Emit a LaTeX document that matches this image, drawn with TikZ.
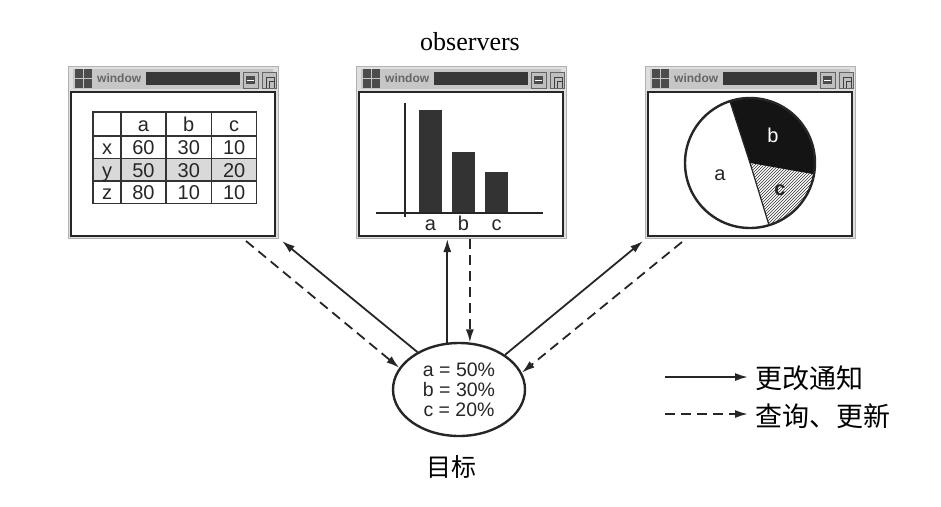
\documentclass[tikz,border=0pt]{standalone}
\usepackage{fontspec}
\setmainfont{Liberation Serif}
\newfontfamily\sansf{Liberation Sans}
\newfontfamily\cjkf{Noto Sans CJK SC}
\usetikzlibrary{shapes.geometric,arrows.meta,patterns,calc}

\tikzset{
  winframe/.style={draw=gray!60, fill=gray!25, line width=1pt, inner sep=0pt,
    minimum width=210pt, minimum height=172pt, anchor=north west},
  pane/.style={draw=black!85, fill=white, line width=1.3pt},
  conn/.style={line width=1.8pt, draw=black!85, -{Latex[length=13pt,width=8pt]}},
  dashconn/.style={conn, dash pattern=on 10pt off 6pt},
  cell/.style={font=\sansf\fontsize{20}{20}\selectfont, text=black!85, inner sep=0pt,
    text height=14.5pt, text depth=0pt},
  wintitle/.style={font=\sansf\bfseries\fontsize{12}{12}\selectfont, text=black!60, inner sep=0pt, anchor=west},
  axisline/.style={line width=1.4pt, draw=black!85},
  bar/.style={fill=black!80},
}

\newcommand\drawwin[2]{%
  \begin{scope}[shift={(#1,0)}]
    \node[winframe] (#2) at (0,-66) {};
    \fill[gray!45] (5,-69) rectangle (205,-89);
    \fill[black!70] (7,-69) rectangle (24,-88);
    \draw[gray!45, line width=0.8pt] (15.5,-69) -- (15.5,-88) (7,-78.5) -- (24,-78.5);
    \node[wintitle] (#2t) at (29,-78) {window};
    \fill[black!78] (78,-72) rectangle (172,-85);
    \draw[black!60, fill=gray!50] (175,-72) rectangle (190,-88);
    \fill[black!70] (178,-76) rectangle (187,-84);
    \draw[white, line width=0.8pt] (179,-80) -- (186,-80);
    \draw[black!60, fill=gray!50] (194,-72) rectangle (208,-88);
    \draw[black!75, line width=1pt] (198,-88) -- (198,-77) -- (206,-77) -- (206,-88);
    \draw[black!75, line width=1pt] (201,-88) -- (201,-81) -- (206,-81);
    \draw[pane] (3,-92) rectangle (207,-236);
  \end{scope}}

\begin{document}
\begin{tikzpicture}[x=1pt,y=1pt]
\useasboundingbox (0,0) rectangle (941,-506);

\node[font=\fontsize{26}{26}\selectfont, inner sep=0pt] (obs) at (470,-42) {observers};

\drawwin{68}{w1}
\drawwin{356}{w2}
\drawwin{645}{w3}

% table in window 1
\fill[gray!30] (93,-158.7) rectangle (256.7,-181);
\draw[line width=1.2pt, black!80] (93,-112) rectangle (256.7,-203.3);
\foreach \xx in {121,166,211.7} \draw[line width=1.2pt, black!80] (\xx,-112) -- (\xx,-203.3);
\foreach \yy in {136,158.7,181} \draw[line width=1.2pt, black!80] (93,-\yy) -- (256.7,-\yy);
\foreach \r/\yy/\lab/\va/\vb/\vc in {0/124.5/{}/a/b/c, 1/147.5/x/60/30/10, 2/170/y/50/30/20, 3/192.3/z/80/10/10}{
  \node[cell] (tl\r) at (107,-\yy) {\lab};
  \node[cell] (ta\r) at (143.5,-\yy) {\va};
  \node[cell] (tb\r) at (188.8,-\yy) {\vb};
  \node[cell] (tc\r) at (234.2,-\yy) {\vc};
}

% bar chart in window 2
\fill[bar] (419,-110) rectangle (442,-213);
\fill[bar] (452,-152) rectangle (475,-213);
\fill[bar] (485,-172) rectangle (508,-213);
\draw[axisline] (405,-103) -- (405,-217);
\draw[axisline] (376,-213) -- (543,-213);
\node[cell] (ba) at (430.5,-223) {a};
\node[cell] (bb) at (463.5,-223) {b};
\node[cell] (bc) at (496.5,-223) {c};

% pie chart in window 3
\fill[black!92] (750,-163) -- ++(108:65) arc[start angle=108, end angle=-10, radius=65] -- cycle;
\fill[pattern=north east lines, pattern color=black!80] (750,-163) -- ++(-10:65) arc[start angle=-10, end angle=-73, radius=65] -- cycle;
\draw[line width=1.2pt, black!85] (750,-163) -- ++(108:65);
\draw[line width=1.2pt, black!85] (750,-163) -- ++(-73:65);
\draw[line width=2.4pt, black!85] (750,-163) circle[radius=65];
\node[cell] (pa) at (720,-173) {a};
\node[cell, text=white] (pb) at (773,-135) {b};
\node[cell, font=\sansf\bfseries\fontsize{20}{20}\selectfont] (pc) at (780,-188) {c};

% subject
\node[ellipse, draw=black!85, line width=2.4pt, minimum width=132pt, minimum height=93pt,
      inner sep=0pt, align=center, font=\sansf\fontsize{19.5}{20}\selectfont, text=black!85]
      (tgt) at (459,-389.5) {a = 50\%\\b = 30\%\\c = 20\%};
\node[font=\cjkf\fontsize{25}{25}\selectfont, inner sep=0pt] (tgtl) at (451,-467) {目标};

% connectors
\draw[conn] (tgt.138) -- ([shift={(3,-2)}]w1.south east);
\draw[dashconn] ([shift={(-33,-2)}]w1.south east) -- (tgt.160);
\draw[conn] (tgt.104) -- (tgt.104 |- w2.south);
\draw[dashconn] (tgt.77 |- w2.south) -- (tgt.77);
\draw[conn] (tgt.37) -- ([shift={(-2,-2)}]w3.south west);
\draw[dashconn] ([shift={(37,-3)}]w3.south west) -- (tgt.15);

% legend
\coordinate (l1s) at (665,-377);
\coordinate (l2s) at (665,-414);
\node[font=\cjkf\fontsize{27}{27}\selectfont, inner sep=0pt, anchor=west] (l1t) at (755,-378) {更改通知};
\node[font=\cjkf\fontsize{27}{27}\selectfont, inner sep=0pt, anchor=west] (l2t) at (755,-416) {查询、更新};
\draw[conn] (l1s) -- ([xshift=-7pt]l1s -| l1t.west);
\draw[dashconn] (l2s) -- ([xshift=-7pt]l2s -| l2t.west);
\end{tikzpicture}
\end{document}
